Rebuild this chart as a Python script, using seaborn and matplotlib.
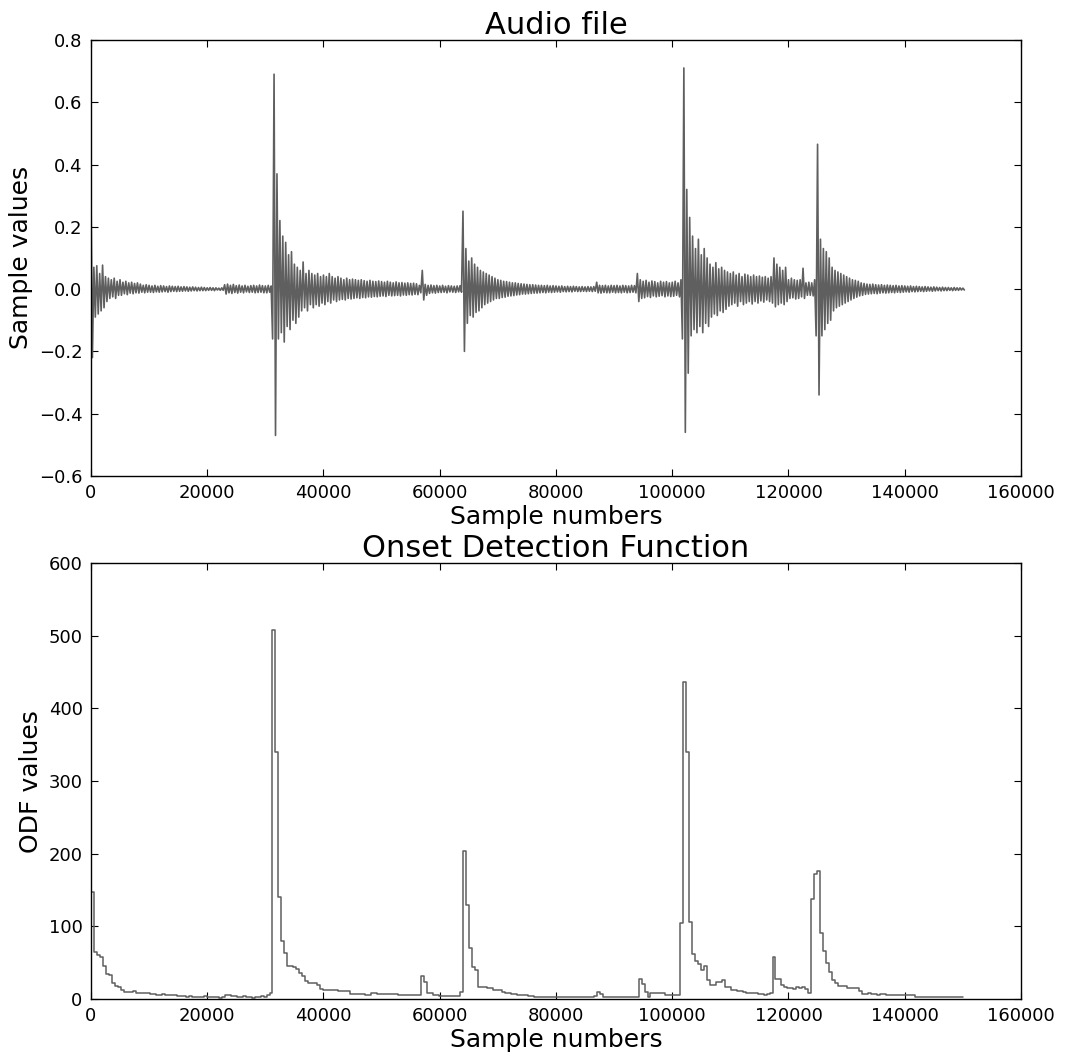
import numpy as np
import matplotlib
matplotlib.use("Agg")
import matplotlib.pyplot as plt
import seaborn as sns

# waveform envelope, one (max, min) pair per 500-sample block
WAVE_BLOCK = 500
WAVE_HI = [
    0.32, 0.07, 0.075, 0.05, 0.077, 0.04, 0.035, 0.03, 0.035, 0.025, 0.03, 0.022, 0.025, 0.02, 0.022, 0.018, 0.02, 0.016, 0.012, 0.014,
    0.012, 0.01, 0.012, 0.009, 0.011, 0.01, 0.008, 0.01, 0.009, 0.008, 0.009, 0.007, 0.008, 0.007, 0.006, 0.007, 0.006, 0.005, 0.006, 0.005,
    0.004, 0.005, 0.004, 0.004, 0.003, 0.004, 0.014, 0.016, 0.012, 0.015, 0.011, 0.013, 0.01, 0.012, 0.009, 0.011, 0.012, 0.01, 0.013, 0.011,
    0.01, 0.012, 0.01, 0.69, 0.37, 0.22, 0.17, 0.15, 0.11, 0.12, 0.08, 0.07, 0.06, 0.087, 0.05, 0.06, 0.05, 0.045, 0.05, 0.04,
    0.045, 0.04, 0.05, 0.04, 0.035, 0.04, 0.035, 0.03, 0.035, 0.03, 0.032, 0.03, 0.028, 0.03, 0.027, 0.025, 0.028, 0.025, 0.024, 0.026,
    0.024, 0.022, 0.025, 0.022, 0.02, 0.023, 0.02, 0.021, 0.019, 0.02, 0.018, 0.019, 0.017, 0.012, 0.06, 0.015, 0.012, 0.013, 0.011, 0.012,
    0.01, 0.012, 0.009, 0.011, 0.01, 0.009, 0.01, 0.011, 0.25, 0.13, 0.09, 0.1, 0.08, 0.07, 0.06, 0.055, 0.05, 0.045, 0.04, 0.035,
    0.03, 0.028, 0.025, 0.024, 0.022, 0.02, 0.02, 0.018, 0.017, 0.016, 0.015, 0.014, 0.014, 0.013, 0.012, 0.012, 0.011, 0.012, 0.01, 0.011,
    0.01, 0.009, 0.01, 0.008, 0.009, 0.008, 0.009, 0.008, 0.007, 0.008, 0.007, 0.008, 0.007, 0.008, 0.022, 0.012, 0.011, 0.012, 0.01, 0.012,
    0.011, 0.012, 0.01, 0.012, 0.011, 0.01, 0.012, 0.011, 0.05, 0.03, 0.025, 0.028, 0.022, 0.026, 0.024, 0.02, 0.025, 0.022, 0.024, 0.02,
    0.022, 0.025, 0.02, 0.03, 0.71, 0.32, 0.23, 0.17, 0.13, 0.16, 0.11, 0.13, 0.1, 0.08, 0.07, 0.085, 0.065, 0.07, 0.06, 0.055,
    0.05, 0.055, 0.045, 0.05, 0.04, 0.048, 0.045, 0.04, 0.045, 0.04, 0.042, 0.038, 0.04, 0.035, 0.04, 0.1, 0.08, 0.07, 0.06, 0.07,
    0.03, 0.035, 0.03, 0.028, 0.03, 0.067, 0.02, 0.022, 0.02, 0.03, 0.465, 0.16, 0.13, 0.12, 0.1, 0.07, 0.06, 0.055, 0.05, 0.045,
    0.04, 0.035, 0.03, 0.028, 0.025, 0.02, 0.018, 0.016, 0.015, 0.016, 0.014, 0.013, 0.014, 0.012, 0.013, 0.012, 0.011, 0.012, 0.01, 0.011,
    0.01, 0.009, 0.01, 0.008, 0.009, 0.008, 0.007, 0.008, 0.007, 0.006, 0.007, 0.006, 0.005, 0.006, 0.005, 0.005, 0.004, 0.005, 0.004, 0.004, 0.003,
]
WAVE_LO = [
    -0.22, -0.09, -0.08, -0.07, -0.06, -0.04, -0.03, -0.025, -0.03, -0.02, -0.02, -0.015, -0.018, -0.013, -0.015, -0.012, -0.013, -0.01, -0.012, -0.01,
    -0.01, -0.011, -0.009, -0.01, -0.009, -0.008, -0.01, -0.008, -0.007, -0.008, -0.007, -0.007, -0.006, -0.007, -0.006, -0.005, -0.006, -0.005, -0.005, -0.005,
    -0.004, -0.004, -0.005, -0.003, -0.004, -0.004, -0.016, -0.012, -0.014, -0.011, -0.013, -0.01, -0.012, -0.009, -0.011, -0.01, -0.012, -0.011, -0.01, -0.012,
    -0.012, -0.01, -0.16, -0.47, -0.16, -0.14, -0.17, -0.12, -0.13, -0.1, -0.11, -0.09, -0.07, -0.06, -0.07, -0.05, -0.06, -0.05, -0.055, -0.045,
    -0.05, -0.04, -0.045, -0.035, -0.04, -0.035, -0.033, -0.035, -0.03, -0.032, -0.03, -0.028, -0.03, -0.027, -0.028, -0.025, -0.026, -0.024, -0.025, -0.023,
    -0.022, -0.024, -0.02, -0.022, -0.021, -0.02, -0.022, -0.019, -0.02, -0.018, -0.019, -0.017, -0.018, -0.012, -0.035, -0.02, -0.014, -0.012, -0.013, -0.011,
    -0.011, -0.01, -0.012, -0.009, -0.01, -0.011, -0.009, -0.01, -0.2, -0.11, -0.085, -0.09, -0.075, -0.07, -0.06, -0.05, -0.045, -0.04, -0.035, -0.03,
    -0.03, -0.027, -0.026, -0.023, -0.022, -0.021, -0.019, -0.018, -0.016, -0.016, -0.015, -0.014, -0.013, -0.013, -0.012, -0.011, -0.012, -0.01, -0.011, -0.01,
    -0.009, -0.01, -0.008, -0.009, -0.008, -0.009, -0.007, -0.008, -0.008, -0.007, -0.008, -0.007, -0.008, -0.007, -0.012, -0.013, -0.011, -0.012, -0.012, -0.01,
    -0.012, -0.011, -0.012, -0.01, -0.012, -0.011, -0.01, -0.012, -0.04, -0.03, -0.028, -0.024, -0.027, -0.022, -0.025, -0.023, -0.021, -0.025, -0.022, -0.024,
    -0.023, -0.02, -0.025, -0.16, -0.46, -0.27, -0.15, -0.13, -0.14, -0.12, -0.14, -0.11, -0.12, -0.09, -0.08, -0.085, -0.07, -0.075, -0.065, -0.055,
    -0.05, -0.045, -0.055, -0.04, -0.05, -0.045, -0.04, -0.048, -0.04, -0.045, -0.038, -0.042, -0.035, -0.04, -0.045, -0.057, -0.05, -0.045, -0.05, -0.04,
    -0.03, -0.028, -0.032, -0.03, -0.025, -0.03, -0.02, -0.02, -0.022, -0.15, -0.34, -0.15, -0.13, -0.11, -0.1, -0.07, -0.06, -0.055, -0.05, -0.045,
    -0.04, -0.035, -0.03, -0.026, -0.022, -0.02, -0.017, -0.016, -0.015, -0.014, -0.015, -0.013, -0.012, -0.013, -0.012, -0.011, -0.012, -0.01, -0.011, -0.01,
    -0.009, -0.01, -0.008, -0.009, -0.008, -0.007, -0.008, -0.007, -0.006, -0.007, -0.006, -0.005, -0.006, -0.005, -0.005, -0.004, -0.005, -0.004, -0.004, -0.003, -0.003,
]

# onset detection function, one value per hop
ODF_HOP = 512
ODF_VALUES = [
    147, 65, 60, 58, 45, 35, 33, 22, 18, 17, 12, 10, 10, 10, 11, 9, 9, 8, 8, 8,
    7, 7, 6, 6, 7, 6, 5, 5, 5, 4, 4, 4, 3, 4, 3, 3, 3, 3, 4, 3,
    3, 3, 3, 2, 3, 6, 5, 4, 4, 3, 3, 4, 3, 3, 2, 3, 3, 4, 3, 5,
    8, 508, 340, 140, 80, 63, 46, 45, 44, 42, 36, 32, 25, 22, 22, 22, 20, 14, 12, 12,
    13, 13, 12, 11, 11, 11, 11, 7, 7, 7, 7, 7, 6, 6, 9, 9, 7, 7, 7, 7,
    7, 7, 7, 5, 5, 5, 5, 5, 5, 5, 5, 32, 23, 8, 8, 6, 6, 4, 4, 4,
    4, 4, 4, 4, 10, 204, 129, 70, 44, 40, 17, 17, 17, 15, 15, 13, 12, 12, 10, 8,
    8, 7, 7, 6, 5, 6, 5, 4, 4, 3, 3, 3, 3, 3, 3, 3, 3, 3, 3, 3,
    3, 3, 3, 3, 3, 3, 3, 3, 3, 4, 10, 7, 3, 3, 3, 3, 3, 3, 3, 3,
    3, 3, 3, 3, 27, 21, 10, 3, 8, 8, 8, 8, 8, 5, 5, 5, 5, 5, 104, 437,
    340, 106, 62, 52, 48, 40, 45, 26, 19, 19, 24, 24, 26, 16, 16, 13, 13, 11, 11, 10,
    9, 9, 9, 8, 7, 7, 5, 7, 9, 58, 28, 28, 20, 17, 15, 15, 14, 16, 15, 17,
    14, 9, 138, 172, 176, 91, 66, 50, 37, 26, 22, 18, 18, 18, 15, 15, 15, 15, 11, 7,
    7, 8, 7, 7, 6, 7, 7, 5, 5, 5, 5, 5, 5, 5, 5, 5, 5, 3, 3, 3,
    3, 3, 3, 3, 3, 3, 3, 3, 3, 3, 3, 3, 3, 3,
]

LINE_COLOR = "#5f5f5f"

sns.set_theme(style="ticks")
plt.rcParams.update({
    "font.family": ["DejaVu Sans"],
    "text.color": "black",
    "axes.labelcolor": "black",
    "axes.titlecolor": "black",
    "axes.edgecolor": "black",
    "axes.linewidth": 1.0,
    "xtick.direction": "in",
    "ytick.direction": "in",
    "xtick.top": True,
    "ytick.right": True,
    "xtick.major.size": 5,
    "ytick.major.size": 5,
    "xtick.major.width": 0.8,
    "ytick.major.width": 0.8,
    "xtick.color": "black",
    "ytick.color": "black",
    "xtick.labelsize": 13,
    "ytick.labelsize": 13,
    "xtick.major.pad": 6,
    "ytick.major.pad": 6,
})

# interleave block max/min so the line sweeps the envelope like a dense waveform
hi = np.asarray(WAVE_HI)
lo = np.asarray(WAVE_LO)
starts = np.arange(len(hi)) * WAVE_BLOCK
wave_x = np.column_stack([starts, starts + WAVE_BLOCK / 2]).ravel()
wave_y = np.column_stack([hi, lo]).ravel()

odf = np.asarray(ODF_VALUES)
odf_x = np.arange(len(odf)) * ODF_HOP

fig, (ax1, ax2) = plt.subplots(2, 1, figsize=(10.65, 10.6), dpi=100)
fig.subplots_adjust(left=0.0854, right=0.9587, top=0.9623, bottom=0.0575, hspace=0.2)

sns.lineplot(x=wave_x, y=wave_y, ax=ax1, color=LINE_COLOR, linewidth=1.2, sort=False)
ax1.set_xlim(0, 160000)
ax1.set_ylim(-0.6, 0.8)
ax1.set_xticks(np.arange(0, 160001, 20000))
ax1.set_yticks(np.arange(-0.6, 0.81, 0.2))
ax1.set_title("Audio file", fontsize=22, pad=4)
ax1.set_xlabel("Sample numbers", fontsize=18, labelpad=2)
ax1.set_ylabel("Sample values", fontsize=18)

sns.lineplot(x=odf_x, y=odf, ax=ax2, color=LINE_COLOR, linewidth=1.1,
             drawstyle="steps-post", sort=False)
ax2.set_xlim(0, 160000)
ax2.set_ylim(0, 600)
ax2.set_xticks(np.arange(0, 160001, 20000))
ax2.set_yticks(np.arange(0, 601, 100))
ax2.set_title("Onset Detection Function", fontsize=22, pad=4)
ax2.set_xlabel("Sample numbers", fontsize=18, labelpad=2)
ax2.set_ylabel("ODF values", fontsize=18)

for ax in (ax1, ax2):
    for side in ("top", "right", "left", "bottom"):
        ax.spines[side].set_visible(True)

fig.savefig("out.png", dpi=100, facecolor="white")
